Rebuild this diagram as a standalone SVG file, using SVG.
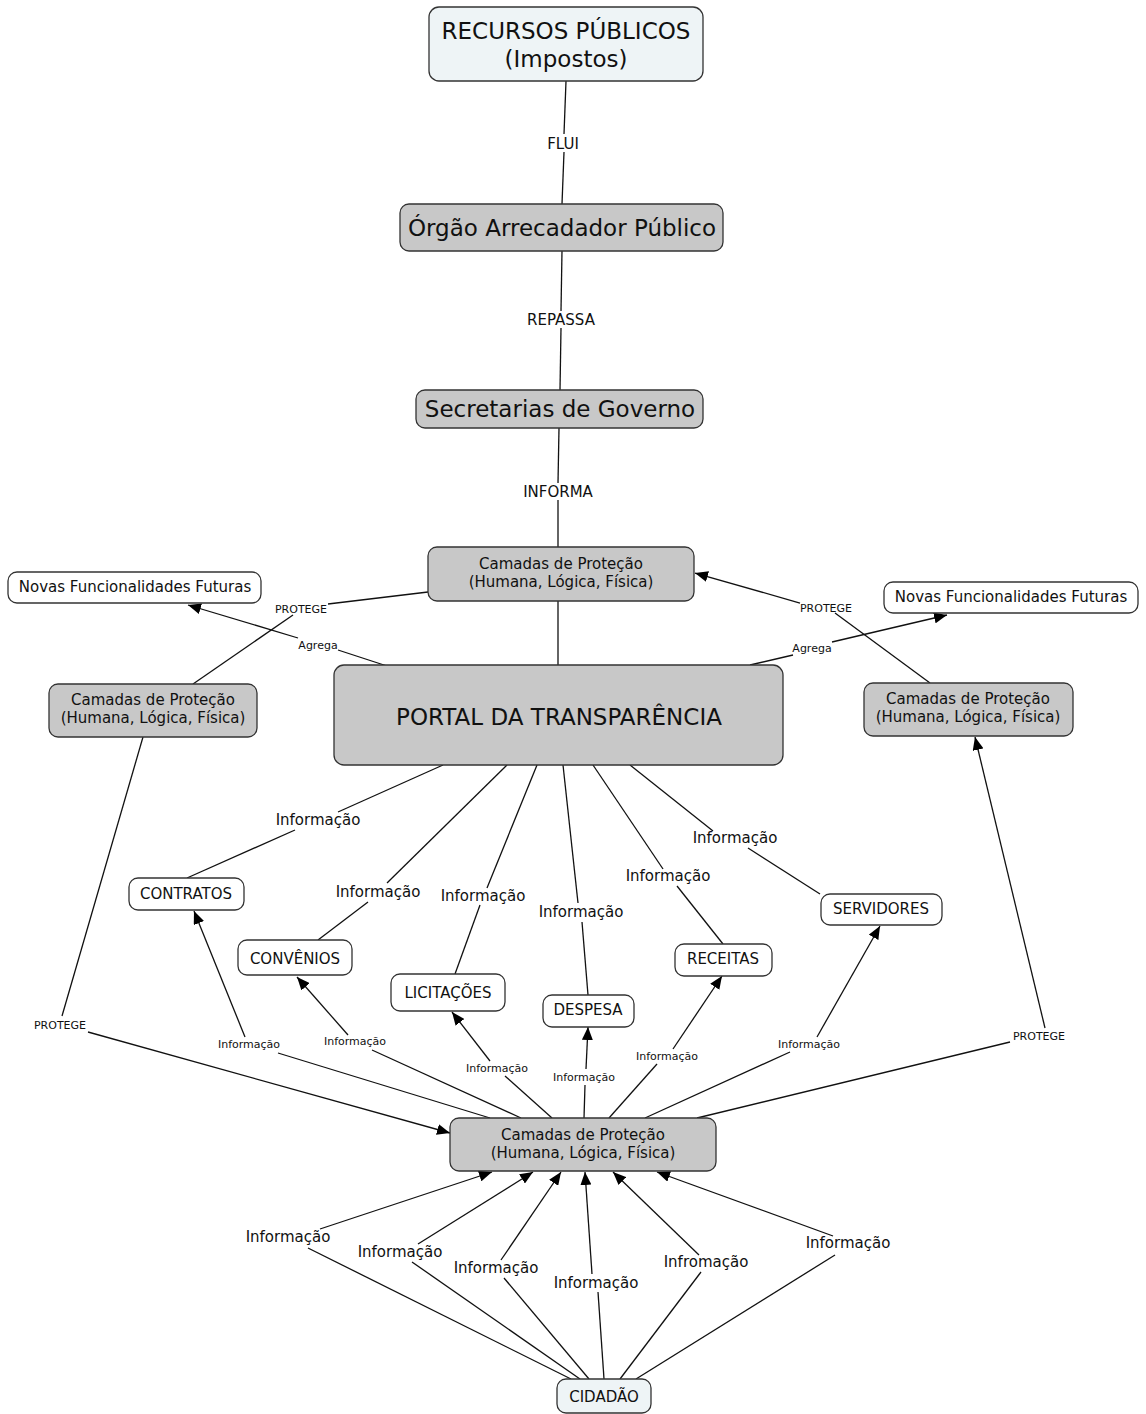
<svg xmlns="http://www.w3.org/2000/svg" width="1146" height="1414" viewBox="0 0 1146 1414">
  <style>
    text { font-family: "DejaVu Sans", Verdana, sans-serif; fill: #111; text-anchor: middle; }
    .box { stroke: #333; stroke-width: 1.3; }
    .gray { fill: #c8c8c8; }
    .white { fill: #ffffff; }
    .blue { fill: #eef4f6; }
    .big { font-size: 23px; }
    .mid { font-size: 15px; }
    .small { font-size: 11px; }
    #links line { stroke: #111; stroke-width: 1.3; fill: none; }
    #links line.arr { marker-end: url(#head); }
  </style>
  <defs>
    <marker id="head" markerUnits="userSpaceOnUse" markerWidth="13" markerHeight="11" refX="13" refY="5.5" orient="auto">
      <path d="M0,0 L13,5.5 L0,11 z" fill="#000"/>
    </marker>
  </defs>
  <rect width="1146" height="1414" fill="#fff"/>

  <!-- connectors: each link is drawn as source→label and label→target -->
  <g id="links">
    <!-- main chain -->
    <line x1="566" y1="81" x2="564" y2="134"/>
    <line x1="564" y1="152" x2="562" y2="204"/>
    <line x1="562" y1="251" x2="561" y2="311"/>
    <line x1="561" y1="328" x2="560" y2="390"/>
    <line x1="559" y1="428" x2="558" y2="483"/>
    <line x1="558" y1="500" x2="558" y2="547"/>
    <line x1="558" y1="601" x2="558" y2="665"/>

    <!-- Agrega (left / right) -->
    <line x1="387" y1="666" x2="338" y2="650"/>
    <line class="arr" x1="298" y1="638" x2="188" y2="605"/>
    <line x1="750" y1="665" x2="793" y2="655"/>
    <line class="arr" x1="832" y1="642" x2="947" y2="615"/>

    <!-- PROTEGE upper left / right -->
    <line x1="193" y1="684" x2="293" y2="615"/>
    <line x1="328" y1="604" x2="428" y2="592"/>
    <line x1="930" y1="683" x2="835" y2="613"/>
    <line class="arr" x1="800" y1="603" x2="695" y2="573"/>

    <!-- PROTEGE lower left / right -->
    <line x1="143" y1="737" x2="62" y2="1016"/>
    <line class="arr" x1="88" y1="1032" x2="450" y2="1133"/>
    <line x1="697" y1="1118" x2="1010" y2="1042"/>
    <line class="arr" x1="1045" y1="1028" x2="975" y2="737"/>

    <!-- portal to the information nodes -->
    <line x1="443" y1="765" x2="338" y2="812"/>
    <line x1="295" y1="830" x2="187" y2="878"/>
    <line x1="507" y1="765" x2="387" y2="883"/>
    <line x1="368" y1="902" x2="318" y2="940"/>
    <line x1="537" y1="765" x2="487" y2="888"/>
    <line x1="480" y1="905" x2="455" y2="974"/>
    <line x1="563" y1="765" x2="578" y2="903"/>
    <line x1="582" y1="922" x2="588" y2="995"/>
    <line x1="593" y1="765" x2="663" y2="869"/>
    <line x1="677" y1="886" x2="723" y2="944"/>
    <line x1="630" y1="765" x2="713" y2="831"/>
    <line x1="748" y1="848" x2="820" y2="894"/>

    <!-- protection layer back to the information nodes -->
    <line x1="490" y1="1118" x2="278" y2="1053"/>
    <line class="arr" x1="245" y1="1037" x2="194" y2="911"/>
    <line x1="521" y1="1118" x2="372" y2="1050"/>
    <line class="arr" x1="348" y1="1035" x2="297" y2="977"/>
    <line x1="552" y1="1118" x2="505" y2="1076"/>
    <line class="arr" x1="490" y1="1061" x2="452" y2="1012"/>
    <line x1="584" y1="1118" x2="585" y2="1085"/>
    <line class="arr" x1="586" y1="1069" x2="588" y2="1027"/>
    <line x1="609" y1="1118" x2="657" y2="1064"/>
    <line class="arr" x1="673" y1="1049" x2="722" y2="976"/>
    <line x1="645" y1="1118" x2="790" y2="1052"/>
    <line class="arr" x1="817" y1="1037" x2="880" y2="926"/>

    <!-- citizen to the protection layer -->
    <line x1="571" y1="1379" x2="308" y2="1248"/>
    <line class="arr" x1="320" y1="1229" x2="492" y2="1172"/>
    <line x1="580" y1="1379" x2="412" y2="1262"/>
    <line class="arr" x1="418" y1="1244" x2="533" y2="1172"/>
    <line x1="589" y1="1379" x2="504" y2="1278"/>
    <line class="arr" x1="501" y1="1260" x2="561" y2="1172"/>
    <line x1="604" y1="1379" x2="598" y2="1292"/>
    <line class="arr" x1="592" y1="1274" x2="585" y2="1172"/>
    <line x1="620" y1="1379" x2="701" y2="1272"/>
    <line class="arr" x1="699" y1="1255" x2="613" y2="1172"/>
    <line x1="636" y1="1379" x2="835" y2="1255"/>
    <line class="arr" x1="833" y1="1236" x2="657" y2="1172"/>

    <!-- link labels -->
    <text class="mid" x="563" y="149">FLUI</text>
    <text class="mid" x="561" y="325">REPASSA</text>
    <text class="mid" x="558" y="497">INFORMA</text>
    <text class="small" x="318" y="649">Agrega</text>
    <text class="small" x="812" y="652">Agrega</text>
    <text class="small" x="301" y="613">PROTEGE</text>
    <text class="small" x="826" y="612">PROTEGE</text>
    <text class="small" x="60" y="1029">PROTEGE</text>
    <text class="small" x="1039" y="1040">PROTEGE</text>
    <text class="mid" x="318" y="825">Informação</text>
    <text class="mid" x="378" y="897">Informação</text>
    <text class="mid" x="483" y="901">Informação</text>
    <text class="mid" x="581" y="917">Informação</text>
    <text class="mid" x="668" y="881">Informação</text>
    <text class="mid" x="735" y="843">Informação</text>
    <text class="small" x="249" y="1048">Informação</text>
    <text class="small" x="355" y="1045">Informação</text>
    <text class="small" x="497" y="1072">Informação</text>
    <text class="small" x="584" y="1081">Informação</text>
    <text class="small" x="667" y="1060">Informação</text>
    <text class="small" x="809" y="1048">Informação</text>
    <text class="mid" x="288" y="1242">Informação</text>
    <text class="mid" x="400" y="1257">Informação</text>
    <text class="mid" x="496" y="1273">Informação</text>
    <text class="mid" x="596" y="1288">Informação</text>
    <text class="mid" x="706" y="1267">Infromação</text>
    <text class="mid" x="848" y="1248">Informação</text>
  </g>

  <g id="recursos">
    <rect class="box blue" x="429" y="7" width="274" height="74" rx="10"/>
    <text class="big" x="566" y="39">RECURSOS PÚBLICOS</text>
    <text class="big" x="566" y="67">(Impostos)</text>
  </g>
  <g id="orgao">
    <rect class="box gray" x="400" y="204" width="323" height="47" rx="9"/>
    <text class="big" x="562" y="236">Órgão Arrecadador Público</text>
  </g>
  <g id="secretarias">
    <rect class="box gray" x="416" y="390" width="287" height="38" rx="9"/>
    <text class="big" x="560" y="417">Secretarias de Governo</text>
  </g>
  <g id="camadas-topo">
    <rect class="box gray" x="428" y="547" width="266" height="54" rx="9"/>
    <text class="mid" x="561" y="569">Camadas de Proteção</text>
    <text class="mid" x="561" y="587">(Humana, Lógica, Física)</text>
  </g>
  <g id="novas-esq">
    <rect class="box white" x="8" y="572" width="253" height="31" rx="9"/>
    <text class="mid" x="135" y="592">Novas Funcionalidades Futuras</text>
  </g>
  <g id="novas-dir">
    <rect class="box white" x="884" y="582" width="254" height="31" rx="9"/>
    <text class="mid" x="1011" y="602">Novas Funcionalidades Futuras</text>
  </g>
  <g id="camadas-esq">
    <rect class="box gray" x="49" y="684" width="208" height="53" rx="9"/>
    <text class="mid" x="153" y="705">Camadas de Proteção</text>
    <text class="mid" x="153" y="723">(Humana, Lógica, Física)</text>
  </g>
  <g id="camadas-dir">
    <rect class="box gray" x="864" y="683" width="209" height="53" rx="9"/>
    <text class="mid" x="968" y="704">Camadas de Proteção</text>
    <text class="mid" x="968" y="722">(Humana, Lógica, Física)</text>
  </g>
  <g id="portal">
    <rect class="box gray" x="334" y="665" width="449" height="100" rx="10"/>
    <text class="big" x="559" y="725">PORTAL DA TRANSPARÊNCIA</text>
  </g>
  <g id="contratos">
    <rect class="box white" x="129" y="878" width="115" height="32" rx="9"/>
    <text class="mid" x="186" y="899">CONTRATOS</text>
  </g>
  <g id="convenios">
    <rect class="box white" x="238" y="940" width="114" height="35" rx="9"/>
    <text class="mid" x="295" y="964">CONVÊNIOS</text>
  </g>
  <g id="licitacoes">
    <rect class="box white" x="391" y="974" width="114" height="37" rx="9"/>
    <text class="mid" x="448" y="998">LICITAÇÕES</text>
  </g>
  <g id="despesa">
    <rect class="box white" x="543" y="995" width="91" height="32" rx="9"/>
    <text class="mid" x="588" y="1015">DESPESA</text>
  </g>
  <g id="receitas">
    <rect class="box white" x="675" y="944" width="97" height="32" rx="9"/>
    <text class="mid" x="723" y="964">RECEITAS</text>
  </g>
  <g id="servidores">
    <rect class="box white" x="821" y="894" width="121" height="31" rx="9"/>
    <text class="mid" x="881" y="914">SERVIDORES</text>
  </g>
  <g id="camadas-base">
    <rect class="box gray" x="450" y="1118" width="266" height="53" rx="9"/>
    <text class="mid" x="583" y="1140">Camadas de Proteção</text>
    <text class="mid" x="583" y="1158">(Humana, Lógica, Física)</text>
  </g>
  <g id="cidadao">
    <rect class="box blue" x="557" y="1379" width="94" height="34" rx="9"/>
    <text class="mid" x="604" y="1402">CIDADÃO</text>
  </g>
</svg>
